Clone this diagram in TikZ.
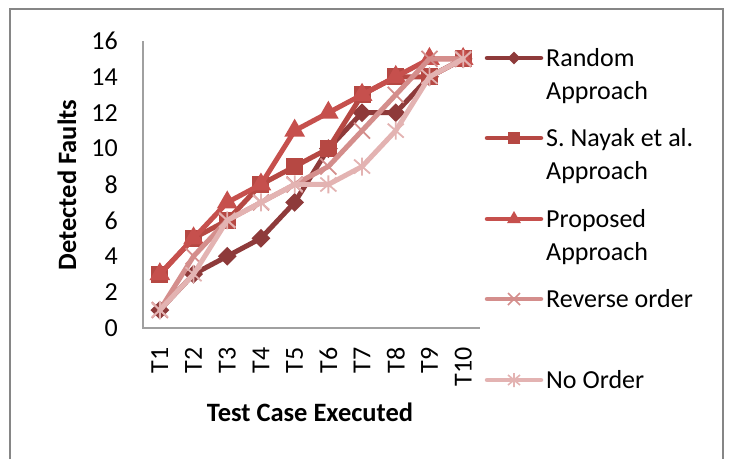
\documentclass[tikz,border=0pt]{standalone}
\usepackage{fontspec}
\setmainfont{Carlito}
\usetikzlibrary{shapes.geometric}
\definecolor{cRand}{HTML}{8E3A3A}
\definecolor{cNay}{HTML}{B64843}
\definecolor{cProp}{HTML}{C6504D}
\definecolor{cRev}{HTML}{D48E8C}
\definecolor{cNo}{HTML}{E3B3B2}
\definecolor{cFrame}{HTML}{868686}
\definecolor{cAxis}{HTML}{A0A0A0}
\tikzset{
  lbl/.style={font=\fontsize{26}{31}\selectfont, inner sep=0pt},
  ttl/.style={font=\fontsize{26.5}{32}\selectfont\bfseries, inner sep=0pt},
  leg/.style={font=\fontsize{26}{33.5}\selectfont, inner sep=0pt, align=left, anchor=base west},
  serline/.style={line width=5pt, line join=round, line cap=round},
  legline/.style={line width=4.5pt, line cap=round},
  mkdia/.style={diamond, fill=cRand, minimum width=19pt, minimum height=19pt, inner sep=0pt},
  mksq/.style={rectangle, fill=cNay, minimum size=17pt, inner sep=0pt},
  mktri/.style={regular polygon, regular polygon sides=3, fill=cProp, minimum size=24pt, inner sep=0pt},
  xmk/.pic={\draw[line width=1.8pt, #1] (-8,-8) -- (8,8) (-8,8) -- (8,-8);},
  astmk/.pic={\draw[line width=1.8pt, #1] (-8,-7) -- (8,7) (-8,7) -- (8,-7) (0,-9) -- (0,9);},
  lxmk/.pic={\draw[line width=1.6pt, #1] (-6,-6) -- (6,6) (-6,6) -- (6,-6);},
  lastmk/.pic={\draw[line width=1.6pt, #1] (-6,-5) -- (6,5) (-6,5) -- (6,-5) (0,-7) -- (0,7);}
}
\begin{document}
\begin{tikzpicture}[x=1pt,y=-1pt]
\useasboundingbox (0,0) rectangle (732,459);
% outer frame
\draw[cFrame, line width=1.5pt] (10,459) -- (10,9) -- (723,9) -- (723,459);
% axes
\coordinate (ax0) at (143,328);
\coordinate (axtop) at (143,41);
\coordinate (axright) at (480,328);
\draw[cAxis, line width=1.5pt] (axtop) -- (ax0) -- (axright);
% y tick labels
\foreach \v in {0,2,...,16}
  \node[lbl, anchor=east] (yt\v) at (118,{328-17.94*\v}) {\v};
% x tick labels
\foreach \i in {1,...,10}
  \node[lbl, rotate=90, anchor=east] (xt\i) at ({126.15+33.7*\i},347) {T\i};
% axis titles
\node[ttl] (xtitle) at (310,412) {Test Case Executed};
\node[ttl, rotate=90] (ytitle) at (67,185) {Detected Faults};
% data coordinates
\foreach \v [count=\i] in {1,3,4,5,7,10,12,12,14,15}
  \coordinate (r\i) at ({126.15+33.7*\i},{328-17.94*\v});
\foreach \v [count=\i] in {3,5,6,8,9,10,13,14,14,15}
  \coordinate (n\i) at ({126.15+33.7*\i},{328-17.94*\v});
\foreach \v [count=\i] in {3,5,7,8,11,12,13,14,15,15}
  \coordinate (p\i) at ({126.15+33.7*\i},{328-17.94*\v});
\foreach \v [count=\i] in {1,4,6,7,8,9,11,13,15,15}
  \coordinate (v\i) at ({126.15+33.7*\i},{328-17.94*\v});
\foreach \v [count=\i] in {1,3,6,7,8,8,9,11,14,15}
  \coordinate (o\i) at ({126.15+33.7*\i},{328-17.94*\v});
% Random
\draw[serline, cRand] (r1) \foreach \i in {2,...,10}{ -- (r\i)};
\foreach \i in {1,...,10} \node[mkdia] (rm\i) at (r\i) {};
% Nayak
\draw[serline, cNay] (n1) \foreach \i in {2,...,10}{ -- (n\i)};
\foreach \i in {1,...,10} \node[mksq] (nm\i) at (n\i) {};
% Proposed
\draw[serline, cProp] (p1) \foreach \i in {2,...,10}{ -- (p\i)};
\foreach \i in {1,...,10} \node[mktri] (pm\i) at (p\i) {};
% Reverse
\draw[serline, cRev] (v1) \foreach \i in {2,...,10}{ -- (v\i)};
\foreach \i in {1,...,10} \pic at (v\i) {xmk=cRev};
% No order
\draw[serline, cNo] (o1) \foreach \i in {2,...,10}{ -- (o\i)};
\foreach \i in {1,...,10} \pic at (o\i) {astmk=cNo};
% legend
\coordinate (l1a) at (487,58);  \coordinate (l1b) at (541,58);
\coordinate (l2a) at (487,138); \coordinate (l2b) at (541,138);
\coordinate (l3a) at (487,219); \coordinate (l3b) at (541,219);
\coordinate (l4a) at (487,299); \coordinate (l4b) at (541,299);
\coordinate (l5a) at (487,380); \coordinate (l5b) at (541,380);
\draw[legline, cRand] (l1a) -- (l1b);
\node[mkdia, minimum width=13pt, minimum height=13pt] (lm1) at (514,58) {};
\draw[legline, cNay] (l2a) -- (l2b);
\node[mksq, minimum size=12pt] (lm2) at (514,138) {};
\draw[legline, cProp] (l3a) -- (l3b);
\node[mktri, minimum size=16pt] (lm3) at (514,219) {};
\draw[legline, cRev] (l4a) -- (l4b);
\pic at (514,299) {lxmk=cRev};
\draw[legline, cNo] (l5a) -- (l5b);
\pic at (514,380) {lastmk=cNo};
\node[leg] (lt1) at (546,99.5) {Random\\Approach};
\node[leg] (lt2) at (546,179.5) {S. Nayak et al.\\Approach};
\node[leg] (lt3) at (546,260.5) {Proposed\\Approach};
\node[leg] (lt4) at (546,307) {Reverse order};
\node[leg] (lt5) at (546,388) {No Order};
\end{tikzpicture}
\end{document}
